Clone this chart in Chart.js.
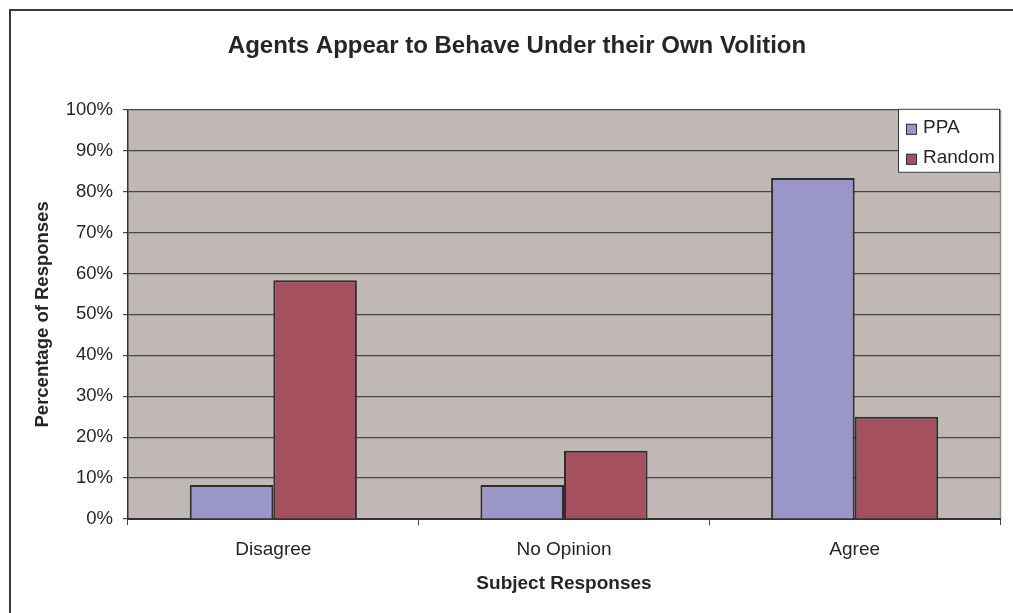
<!DOCTYPE html>
<html>
<head>
<meta charset="utf-8">
<script src="https://cdn.jsdelivr.net/npm/chart.js@4"></script>
<style>
  html, body { margin: 0; padding: 0; background: #fff; }
  #wrap { width: 1013px; height: 613px; position: relative; }
</style>
</head>
<body>
<div id="wrap"><canvas id="chart"></canvas></div>
<script>
// Data
const categories = ['Disagree', 'No Opinion', 'Agree'];
const ppaValues = [8.33, 8.33, 83.33];
const randomValues = [58.33, 16.67, 25];
const seriesNames = ['PPA', 'Random'];
const yTickStep = 10;
const yMax = 100;

const FONT = "'Liberation Sans', Arial, sans-serif";
const TEXT = '#262626';
const GRID = '#474747';

// Plot background, outer frame and right edge of plot
const backdrop = {
    id: 'backdrop',
    afterLayout(chart) {
        // title is centred a bit right of the canvas middle in the original
        if (chart.titleBlock) {
            chart.titleBlock.left = 34;
            chart.titleBlock.right = 1000;
        }
    },
    beforeDraw(chart) {
        const { ctx, chartArea: a } = chart;
        ctx.save();
        ctx.fillStyle = '#c0b8b5';
        ctx.fillRect(a.left, a.top, a.right - a.left, a.bottom - a.top);

        ctx.strokeStyle = '#8c8c8c';
        ctx.lineWidth = 1.5;
        ctx.beginPath();
        ctx.moveTo(a.right + 0.5, a.top);
        ctx.lineTo(a.right + 0.5, a.bottom);
        ctx.stroke();

        // outer chart frame (only top and left visible)
        ctx.strokeStyle = '#3a3a3a';
        ctx.lineWidth = 2;
        ctx.beginPath();
        ctx.moveTo(10, 613);
        ctx.lineTo(10, 10);
        ctx.lineTo(1013, 10);
        ctx.stroke();
        ctx.restore();
    }
};

// Boxed legend inside the top right corner of the plot
const boxLegend = {
    id: 'boxLegend',
    afterDraw(chart) {
        const { ctx, chartArea: a } = chart;
        const w = 102, h = 64;
        const x = a.right - w, y = a.top - 1;
        ctx.save();
        ctx.fillStyle = '#ffffff';
        ctx.fillRect(x, y, w, h);
        ctx.strokeStyle = '#3a3a3a';
        ctx.lineWidth = 1;
        ctx.strokeRect(x + 0.5, y + 0.5, w - 1, h - 1);

        ctx.font = '19px ' + FONT;
        ctx.textBaseline = 'middle';
        ctx.textAlign = 'left';
        chart.data.datasets.forEach((ds, i) => {
            const cy = y + 19 + i * 30;
            ctx.fillStyle = ds.backgroundColor;
            ctx.fillRect(x + 8, cy - 4, 11, 11);
            ctx.strokeStyle = '#333';
            ctx.strokeRect(x + 8.5, cy - 3.5, 10, 10);
            ctx.fillStyle = TEXT;
            ctx.fillText(ds.label, x + 25, cy);
        });
        ctx.restore();
    }
};

new Chart(document.getElementById('chart'), {
    type: 'bar',
    data: {
        labels: categories,
        datasets: [
            {
                label: seriesNames[0],
                data: ppaValues,
                backgroundColor: '#9b96c8',
                borderColor: '#2e2e2e',
                borderWidth: 2,
                borderSkipped: 'bottom'
            },
            {
                label: seriesNames[1],
                data: randomValues,
                backgroundColor: '#a5505e',
                borderColor: '#2e2e2e',
                borderWidth: 2,
                borderSkipped: 'bottom'
            }
        ]
    },
    options: {
        responsive: true,
        maintainAspectRatio: false,
        animation: false,
        layout: { padding: { left: 0, right: 13, top: 0, bottom: 0 } },
        datasets: {
            bar: { categoryPercentage: 0.575, barPercentage: 1.0 }
        },
        plugins: {
            legend: { display: false },
            tooltip: { enabled: false },
            title: {
                display: true,
                text: 'Agents Appear to Behave Under their Own Volition',
                color: TEXT,
                font: { family: FONT, size: 24, weight: 'bold' },
                padding: { top: 32, bottom: 49 }
            }
        },
        scales: {
            x: {
                afterFit(scale) { scale.height = 94; },
                grid: {
                    display: true,
                    drawOnChartArea: false,
                    drawTicks: true,
                    tickLength: 6,
                    color: GRID,
                    offset: true
                },
                border: { display: true, color: '#333333', width: 2 },
                ticks: {
                    color: TEXT,
                    font: { family: FONT, size: 19 },
                    padding: 13,
                    maxRotation: 0
                },
                title: {
                    display: true,
                    text: 'Subject Responses',
                    color: TEXT,
                    font: { family: FONT, size: 19, weight: 'bold' },
                    padding: { top: 0, bottom: 18 }
                }
            },
            y: {
                min: 0,
                max: yMax,
                afterFit(scale) { scale.width = 128; },
                grid: {
                    color: GRID,
                    lineWidth: 1.2,
                    drawTicks: true,
                    tickLength: 5
                },
                border: { display: true, color: '#333333', width: 1.5 },
                ticks: {
                    stepSize: yTickStep,
                    color: TEXT,
                    font: { family: FONT, size: 18.5 },
                    padding: 10,
                    callback: (v) => v + '%'
                },
                title: {
                    display: true,
                    text: 'Percentage of Responses',
                    color: TEXT,
                    font: { family: FONT, size: 18.5, weight: 'bold' },
                    padding: { top: 32, bottom: 0 }
                }
            }
        }
    },
    plugins: [backdrop, boxLegend]
});
</script>
</body>
</html>
